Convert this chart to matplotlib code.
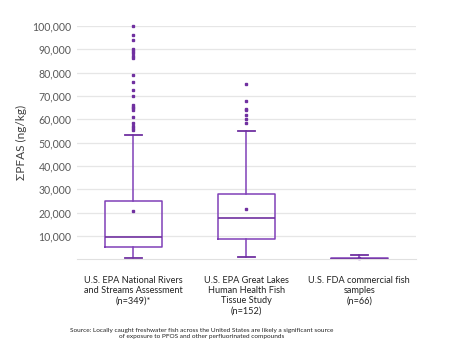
import matplotlib
matplotlib.use("Agg")
import matplotlib.pyplot as plt

plt.rcParams['font.family'] = ['Lato', 'DejaVu Sans']

categories = ["U.S. EPA National Rivers\nand Streams Assessment\n(n=349)*",
              "U.S. EPA Great Lakes\nHuman Health Fish\nTissue Study\n(n=152)",
              "U.S. FDA commercial fish\nsamples\n(n=66)"]
q1 = [5300, 8700, 0]
median = [9700, 17800, 200]
q3 = [25100, 27900, 500]
whisker_low = [400, 1100, 0]
whisker_high = [53400, 55100, 2000]
means = [20700, 21600, 700]
outliers = [
    [100000, 96300, 94100, 90000, 89100, 88300, 87300, 86100, 79100, 75900,
     72600, 70000, 66000, 65400, 64700, 64000, 60900, 58300, 57300, 56400, 55400],
    [75300, 67700, 64500, 63900, 61700, 60000, 58500],
    [],
]
yticks = [10000, 20000, 30000, 40000, 50000, 60000, 70000, 80000, 90000, 100000]
ylabel = "ΣPFAS (ng/kg)"
source = ("Source: Locally caught freshwater fish across the United States are likely a significant source\n"
          "of exposure to PFOS and other perfluorinated compounds")

purple = '#8040B8'
dark = '#7030A0'

fig = plt.figure(figsize=(4.5, 3.53), dpi=100)
ax = fig.add_axes([0.171, 0.2654, 0.753, 0.661])

stats = []
for i in range(len(categories)):
    stats.append(dict(label=categories[i], q1=q1[i], med=median[i], q3=q3[i],
                      whislo=whisker_low[i], whishi=whisker_high[i],
                      mean=means[i], fliers=outliers[i]))

ax.bxp(stats, positions=range(len(categories)), widths=0.5, showmeans=True,
       patch_artist=False,
       boxprops=dict(color=purple, linewidth=1.1),
       medianprops=dict(color=dark, linewidth=1.2),
       whiskerprops=dict(color=purple, linewidth=1.1),
       capprops=dict(color=dark, linewidth=1.3),
       capwidths=0.15,
       meanprops=dict(marker='s', markersize=1.8, markerfacecolor=dark, markeredgecolor=dark),
       flierprops=dict(marker='s', markersize=1.5, markerfacecolor=dark,
                       markeredgecolor=dark, linestyle='none'))
for art in ax.lines:
    art.set_clip_on(False)

ax.set_xlim(-0.5, 2.5)
ax.set_ylim(0, 100000)
ax.set_yticks(yticks)
ax.set_yticklabels([f"{v:,}" for v in yticks])
ax.yaxis.grid(True, color='#E6E6E6', linewidth=0.9)
ax.set_axisbelow(True)
for s in ['top', 'right', 'left']:
    ax.spines[s].set_visible(False)
ax.spines['bottom'].set_color('#E0E0E0')
ax.tick_params(axis='y', length=0, pad=4, labelsize=7.6, labelcolor='#595959')
ax.tick_params(axis='x', length=0, pad=12, labelsize=6.6, labelcolor='#222222')
ax.set_xticks(range(len(categories)))
ax.set_xticklabels(categories, linespacing=1.15, va='top')
ax.set_ylabel(ylabel, fontsize=8.6, color='#404040', labelpad=4)

fig.text(0.449, 0.0555, source, ha='center', va='center', fontsize=4.65,
         color='#222222', linespacing=1.15)

fig.savefig('out.png', dpi=100)
